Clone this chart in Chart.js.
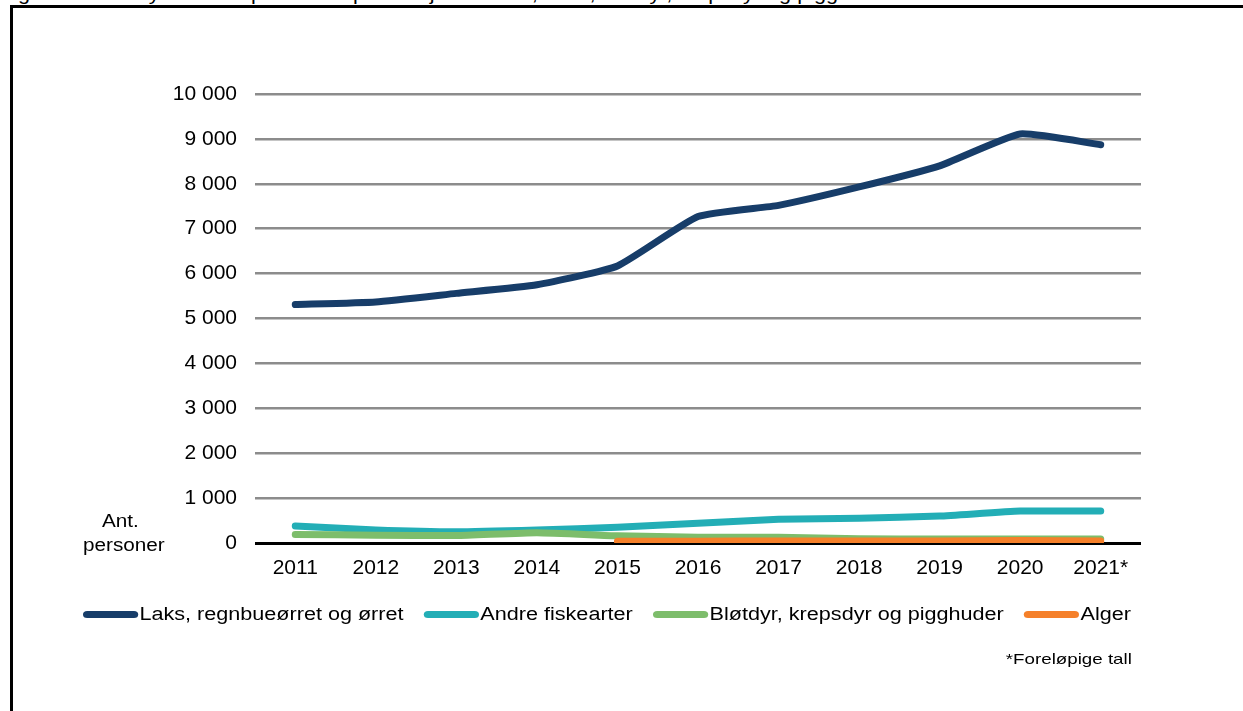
<!DOCTYPE html>
<html>
<head>
<meta charset="utf-8">
<script src="https://cdn.jsdelivr.net/npm/chart.js@4.4.0/dist/chart.umd.min.js"></script>
<style>
  body { margin: 0; background: #fff; font-family: "Liberation Sans", Arial, sans-serif; overflow: hidden; }
  #wrap { position: relative; width: 1243px; height: 711px; overflow: hidden; }
  #frame { position: absolute; left: 10px; top: 5px; width: 1300px; height: 800px; border-left: 3px solid #000; border-top: 3px solid #000; }
  #title { position: absolute; left: 0; top: -16px; font-size: 18px; white-space: nowrap; color: #000; transform: scaleX(1.2); transform-origin: left top; }
  #chart { position: absolute; left: 0; top: 0; }
  .ylab { position: absolute; font-size: 18px; line-height: 24px; color: #000; transform: scaleX(1.15); transform-origin: left top; white-space: nowrap; }
  #legend { position: absolute; left: 83px; top: 604px; display: flex; font-size: 18px; color: #000; transform: scaleX(1.2); transform-origin: left top; white-space: nowrap; }
  .item { display: flex; align-items: center; margin-right: 17px; }
  .swatch { width: 46px; height: 7px; border-radius: 4px; margin-right: 1px; }
  #note { position: absolute; right: 111px; top: 650px; font-size: 15px; color: #000; transform: scaleX(1.25); transform-origin: right top; white-space: nowrap; }
</style>
</head>
<body>
<div id="wrap">
  <div id="title">Figur 5. Antall sysselsatte personer i produksjon av laks, ørret, bløtdyr, krepsdyr og pigghuder. 2011–2021*</div>
  <div id="frame"></div>
  <canvas id="chart" width="1243" height="711"></canvas>
  <div class="ylab" style="left:102px; top:509px;">Ant.</div>
  <div class="ylab" style="left:83px; top:533px;">personer</div>
  <div id="legend"></div>
  <div id="note">*Foreløpige tall</div>
</div>
<script>
// data
const years = ['2011', '2012', '2013', '2014', '2015', '2016', '2017', '2018', '2019', '2020', '2021*'];
const laks = [5310, 5370, 5560, 5750, 6170, 7270, 7520, 7930, 8400, 9110, 8870];
const andreFisk = [380, 290, 250, 290, 350, 440, 530, 550, 600, 710, 710];
const blotdyr = [190, 175, 165, 230, 160, 130, 130, 95, 90, 90, 90];
const alger = [null, null, null, null, 40, 40, 45, 45, 45, 55, 45];
const yTicks = [0, 1000, 2000, 3000, 4000, 5000, 6000, 7000, 8000, 9000, 10000];

const seriesNames = ['Laks, regnbueørret og ørret', 'Andre fiskearter', 'Bløtdyr, krepsdyr og pigghuder', 'Alger'];
const colors = ['#173d69', '#23aeb6', '#7dbd6b', '#f5802a'];

const fmt = v => String(v).replace(/\B(?=(\d{3})+(?!\d))/g, ' ');

const mkSet = (i, data, order) => ({
  label: seriesNames[i],
  data: data,
  borderColor: colors[i],
  backgroundColor: colors[i],
  borderWidth: 7,
  borderCapStyle: 'round',
  borderJoinStyle: 'round',
  pointRadius: 0,
  tension: 0.15,
  spanGaps: false,
  order: order
});

Chart.defaults.font.family = '"Liberation Sans", Arial, sans-serif';
Chart.defaults.color = '#000';

new Chart(document.getElementById('chart'), {
  type: 'line',
  data: {
    labels: years,
    datasets: [
      mkSet(0, laks, 4),
      mkSet(1, andreFisk, 3),
      mkSet(2, blotdyr, 2),
      mkSet(3, alger, 1)
    ]
  },
  options: {
    responsive: false,
    animation: false,
    layout: { padding: { top: 94, right: 102, left: 0, bottom: 0 } },
    plugins: { legend: { display: false }, tooltip: { enabled: false } },
    scales: {
      x: {
        offset: true,
        grid: { display: false, drawTicks: false },
        border: { display: false },
        ticks: { font: { size: 21 }, padding: 13, maxRotation: 0 },
        afterFit: s => { s.height = 168; }
      },
      y: {
        min: 0,
        max: 10000,
        afterBuildTicks: s => { s.ticks = yTicks.map(v => ({ value: v })); },
        grid: {
          drawTicks: false,
          color: c => c.tick && c.tick.value === 0 ? '#000' : '#8c8c8c',
          lineWidth: c => c.tick && c.tick.value === 0 ? 3 : 2.5
        },
        border: { display: false },
        ticks: { font: { size: 21 }, padding: 18, callback: v => fmt(v) },
        afterFit: s => { s.width = 255; }
      }
    }
  }
});

// legend
const leg = document.getElementById('legend');
seriesNames.forEach((name, i) => {
  const item = document.createElement('div');
  item.className = 'item';
  item.innerHTML = '<span class="swatch" style="background:' + colors[i] + '"></span><span>' + name + '</span>';
  leg.appendChild(item);
});
</script>
</body>
</html>
